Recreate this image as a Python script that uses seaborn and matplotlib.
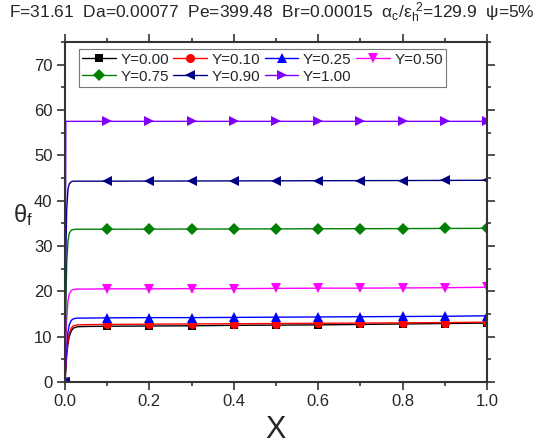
import matplotlib
matplotlib.use("Agg")
import matplotlib.pyplot as plt
from matplotlib.ticker import MultipleLocator
import seaborn as sns
import pandas as pd

sns.set_style("ticks")
plt.rcParams['font.family'] = ['Liberation Sans', 'DejaVu Sans']
plt.rcParams['mathtext.fontset'] = 'custom'
plt.rcParams['mathtext.rm'] = 'Liberation Sans'
plt.rcParams['mathtext.it'] = 'Liberation Sans'
plt.rcParams['mathtext.bf'] = 'Liberation Sans:bold'

x = [0, 0.002, 0.004, 0.007, 0.01, 0.015, 0.02, 0.03, 0.05,
     0.1, 0.2, 0.3, 0.4, 0.5, 0.6, 0.7, 0.8, 0.9, 1.0]
marker_idx = [0, 9, 10, 11, 12, 13, 14, 15, 16, 17, 18]

y000 = [0, 3.0, 5.8, 8.4, 10.0, 11.3, 11.9, 12.2, 12.25, 12.3, 12.35, 12.4, 12.5, 12.55, 12.6, 12.7, 12.8, 12.9, 13.0]
y010 = [0, 3.5, 6.5, 9.2, 10.7, 11.9, 12.4, 12.6, 12.65, 12.7, 12.75, 12.8, 12.85, 12.9, 12.95, 13.0, 13.05, 13.1, 13.2]
y025 = [0, 4.5, 8.0, 11.0, 12.6, 13.6, 13.95, 14.1, 14.1, 14.15, 14.2, 14.2, 14.25, 14.3, 14.35, 14.4, 14.45, 14.5, 14.6]
y050 = [0, 8.5, 14.0, 17.8, 19.4, 20.2, 20.4, 20.5, 20.5, 20.55, 20.55, 20.6, 20.6, 20.65, 20.7, 20.7, 20.75, 20.8, 20.9]
y075 = [0, 17.0, 26.0, 31.0, 32.8, 33.5, 33.65, 33.7, 33.7, 33.7, 33.72, 33.74, 33.76, 33.78, 33.8, 33.82, 33.84, 33.87, 33.9]
y090 = [0, 28.0, 38.0, 42.5, 43.7, 44.2, 44.3, 44.3, 44.3, 44.3, 44.32, 44.34, 44.36, 44.38, 44.4, 44.42, 44.44, 44.47, 44.5]
y100 = [0, 57.5, 57.5, 57.5, 57.5, 57.5, 57.5, 57.5, 57.5, 57.5, 57.5, 57.5, 57.5, 57.5, 57.5, 57.5, 57.5, 57.5, 57.5]

labels = ["Y=0.00", "Y=0.10", "Y=0.25", "Y=0.50", "Y=0.75", "Y=0.90", "Y=1.00"]
series = [y000, y010, y025, y050, y075, y090, y100]
colors = ["#000000", "#FF0000", "#0000FF", "#FF00FF", "#008000", "#000080", "#8000FF"]
markers = ["s", "o", "^", "v", "D", "<", ">"]
msizes = [5.5, 6.5, 7.5, 7.5, 6, 7.5, 7.5]

fig = plt.figure(figsize=(5.43, 4.48), dpi=100)
ax = fig.add_axes([65/543, 1-382/448, (487-65)/543, (382-42)/448])

for lab, ys, c, m, ms in zip(labels, series, colors, markers, msizes):
    df = pd.DataFrame({"X": x, "T": ys})
    sns.lineplot(data=df, x="X", y="T", ax=ax, color=c, marker=m, markersize=ms,
                 markeredgewidth=0, markevery=marker_idx, linewidth=1.0,
                 label=lab, estimator=None, sort=False)

ax.set_xlim(0, 1.0)
ax.set_ylim(0, 75)
ax.xaxis.set_major_locator(MultipleLocator(0.2))
ax.xaxis.set_minor_locator(MultipleLocator(0.1))
ax.yaxis.set_major_locator(MultipleLocator(10))
ax.yaxis.set_minor_locator(MultipleLocator(5))
ax.tick_params(which='both', direction='out', top=True, right=True,
               labeltop=False, labelright=False, width=1.2, color='#333333')
ax.tick_params(which='major', length=6, labelsize=12, pad=3)
ax.tick_params(which='minor', length=3)
for sp in ax.spines.values():
    sp.set_linewidth(1.5)
    sp.set_color('#333333')
    sp.set_visible(True)

ax.set_xlabel("X", fontsize=22, labelpad=4)
ax.set_ylabel("θ$_\\mathrm{f}$", fontsize=17, rotation=0, ha='center', va='center')
ax.yaxis.set_label_coords(-0.1, 0.49)

fig.text(0.5, 0.972,
         r"F=31.61  Da=0.00077  Pe=399.48  Br=0.00015  $\alpha_c/\varepsilon_h^{\ 2}$=129.9  $\psi$=5%",
         ha='center', va='center', fontsize=12.5)

handles, labs = ax.get_legend_handles_labels()
order = [0, 4, 1, 5, 2, 6, 3]
leg = ax.legend([handles[i] for i in order], [labs[i] for i in order],
                loc='upper left', bbox_to_anchor=(0.033, 0.978), ncol=4,
                fontsize=11, frameon=True, fancybox=False, edgecolor='#555555',
                handlelength=2.2, handletextpad=0.3, columnspacing=0.3,
                labelspacing=0.2, borderpad=0.2, borderaxespad=0)
leg.get_frame().set_linewidth(0.8)

fig.savefig("out.png", dpi=100)
